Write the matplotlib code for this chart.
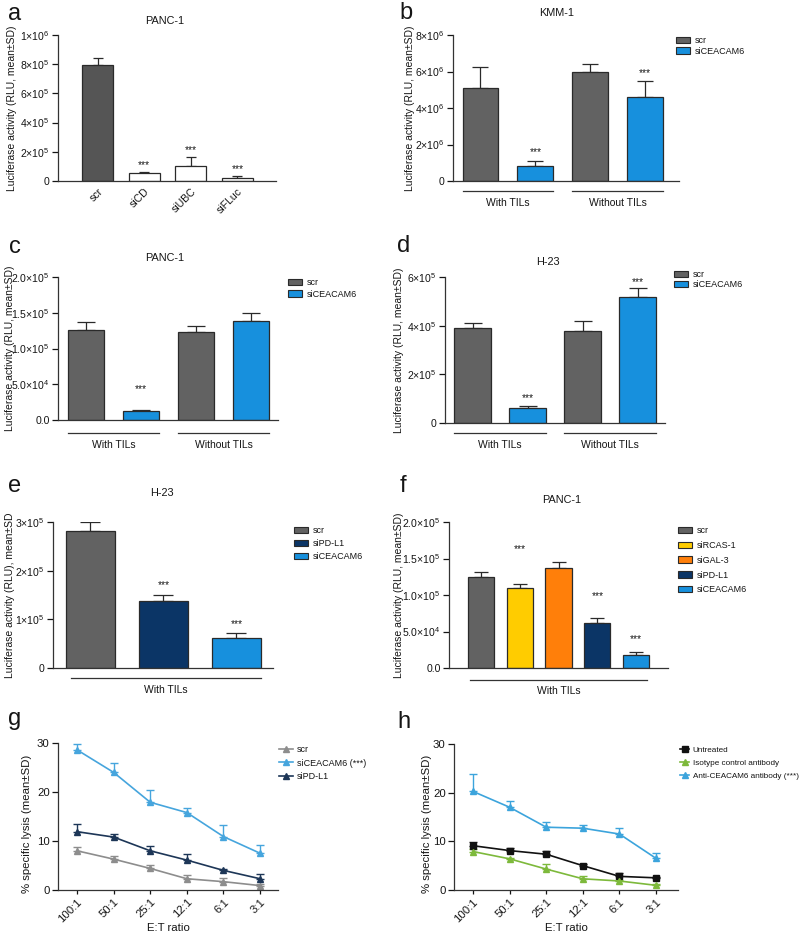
import matplotlib
matplotlib.use('Agg')
import matplotlib.pyplot as plt
from matplotlib import transforms
from matplotlib.patches import Patch
from matplotlib.lines import Line2D
import numpy as np

plt.rcParams.update({
    'font.family': ['Liberation Sans', 'DejaVu Sans'],
    'mathtext.fontset': 'custom',
    'mathtext.rm': 'Liberation Sans',
    'mathtext.it': 'Liberation Sans:italic',
    'mathtext.bf': 'Liberation Sans:bold',
    'font.size': 7.4,
    'axes.linewidth': 0.9,
    'xtick.major.width': 0.9,
    'ytick.major.width': 0.9,
    'text.color': '#151515',
    'xtick.color': '#151515',
    'ytick.color': '#151515',
    'axes.labelcolor': '#151515',
})

# ---------------- data ----------------
a_cats = ['scr', 'siCD', 'siUBC', 'siFLuc']
a_vals = [7.95e5, 0.52e5, 1.05e5, 0.2e5]
a_err = [0.5e5, 0.09e5, 0.6e5, 0.12e5]
a_yticks = [0, 2e5, 4e5, 6e5, 8e5, 1e6]
a_ylabels = ['0', '2×10$^5$', '4×10$^5$', '6×10$^5$', '8×10$^5$', '1×10$^6$']

groups = ['With TILs', 'Without TILs']
b_scr = [5.1e6, 6.0e6]
b_scr_err = [1.17e6, 0.43e6]
b_si = [0.8e6, 4.62e6]
b_si_err = [0.32e6, 0.88e6]
b_yticks = [0, 2e6, 4e6, 6e6, 8e6]
b_ylabels = ['0', '2×10$^6$', '4×10$^6$', '6×10$^6$', '8×10$^6$']

c_scr = [1.26e5, 1.23e5]
c_scr_err = [0.11e5, 0.09e5]
c_si = [0.13e5, 1.38e5]
c_si_err = [0.015e5, 0.12e5]
c_yticks = [0, 5e4, 1e5, 1.5e5, 2e5]
c_ylabels = ['0.0', '5.0×10$^4$', '1.0×10$^5$', '1.5×10$^5$', '2.0×10$^5$']

d_scr = [3.89e5, 3.79e5]
d_scr_err = [0.23e5, 0.41e5]
d_si = [0.61e5, 5.18e5]
d_si_err = [0.1e5, 0.38e5]
d_yticks = [0, 2e5, 4e5, 6e5]
d_ylabels = ['0', '2×10$^5$', '4×10$^5$', '6×10$^5$']

e_cats = ['scr', 'siPD-L1', 'siCEACAM6']
e_vals = [2.82e5, 1.38e5, 0.62e5]
e_err = [0.19e5, 0.11e5, 0.09e5]
e_yticks = [0, 1e5, 2e5, 3e5]
e_ylabels = ['0', '1×10$^5$', '2×10$^5$', '3×10$^5$']

f_cats = ['scr', 'siRCAS-1', 'siGAL-3', 'siPD-L1', 'siCEACAM6']
f_vals = [1.24e5, 1.10e5, 1.37e5, 0.61e5, 0.18e5]
f_err = [0.08e5, 0.05e5, 0.08e5, 0.08e5, 0.04e5]
f_yticks = [0, 5e4, 1e5, 1.5e5, 2e5]
f_ylabels = ['0.0', '5.0×10$^4$', '1.0×10$^5$', '1.5×10$^5$', '2.0×10$^5$']

ratios = ['100:1', '50:1', '25:1', '12:1', '6:1', '3:1']
g_scr = [8.0, 6.3, 4.4, 2.3, 1.7, 0.9]
g_scr_err = [0.7, 0.6, 0.8, 0.7, 0.7, 0.3]
g_cea = [28.6, 24.0, 17.9, 15.8, 10.9, 7.5]
g_cea_err = [1.1, 1.9, 2.6, 1.0, 2.4, 1.6]
g_pdl = [11.9, 10.8, 8.0, 6.1, 4.0, 2.3]
g_pdl_err = [1.5, 0.6, 1.0, 1.2, 0.2, 1.0]

h_unt = [9.1, 8.1, 7.35, 5.0, 2.8, 2.5]
h_unt_err = [0.8, 0.5, 0.7, 0.3, 0.6, 0.2]
h_iso = [7.9, 6.4, 4.3, 2.3, 1.85, 0.96]
h_iso_err = [0.5, 0.2, 1.0, 0.65, 0.3, 0.2]
h_anti = [20.25, 17.0, 12.9, 12.7, 11.5, 6.5]
h_anti_err = [3.5, 1.3, 1.0, 0.7, 1.3, 1.05]

# ---------------- style ----------------
GREY = '#626262'
BLUE = '#1790dd'
NAVY = '#0b3566'
YELLOW = '#ffcc00'
ORANGE = '#ff7f0a'
EDGE = '#2a2a2a'
LUC_LABEL = 'Luciferase activity (RLU, mean±SD)'
TICK_FS = 7.6
LAB_FS = 7.5
TITLE_FS = 7.8
LEG_FS = 6.5

W, H = 800, 933
fig = plt.figure(figsize=(W / 100, H / 100), dpi=100)


def add_ax(l, r, t, b):
    ax = fig.add_axes([l / W, 1 - b / H, (r - l) / W, (b - t) / H])
    for s in ['top', 'right']:
        ax.spines[s].set_visible(False)
    ax.spines['left'].set_color('#333333')
    ax.spines['bottom'].set_color('#333333')
    ax.tick_params(axis='y', direction='out', length=4, labelsize=TICK_FS, pad=2)
    return ax


def px_text(x, y, s, **kw):
    fig.text(x / W, 1 - y / H, s, **kw)


def bars(ax, xs, vals, errs, colors, width, capsize):
    ax.bar(xs, vals, width=width, color=colors, edgecolor=EDGE, linewidth=0.9, zorder=2)
    ax.errorbar(xs, vals, yerr=[np.zeros(len(vals)), errs], fmt='none', ecolor=EDGE,
                elinewidth=0.9, capsize=capsize, capthick=0.9, zorder=1)


def stars(ax, x, top, off_px):
    ax.annotate('***', xy=(x, top), xytext=(0, off_px * 0.72), textcoords='offset points',
                ha='center', va='center', fontsize=7.4)


def group_line(ax, x0, x1, label, dy_line=10, dy_text=22):
    trans = transforms.blended_transform_factory(ax.transData, ax.transAxes)
    o1 = transforms.ScaledTranslation(0, -dy_line / 100, fig.dpi_scale_trans)
    o2 = transforms.ScaledTranslation(0, -dy_text / 100, fig.dpi_scale_trans)
    ax.plot([x0, x1], [0, 0], transform=trans + o1, color='#333333', lw=0.9, clip_on=False)
    ax.text((x0 + x1) / 2, 0, label, transform=trans + o2, ha='center', va='center', fontsize=7.5)


def legend(ax, handles, labels, x, y, spacing=0.3, hl=1.6, hh=0.7, pad=0.5, fs=LEG_FS):
    ax.legend(handles, labels, loc='upper left', bbox_to_anchor=(x / W, 1 - y / H),
              bbox_transform=fig.transFigure, frameon=False, fontsize=fs,
              handlelength=hl, handleheight=hh, handletextpad=pad,
              labelspacing=spacing, borderpad=0, borderaxespad=0)


def set_ylab(ax, label, xpx, l, r, fs=LAB_FS, yc=0.5):
    ax.set_ylabel(label, fontsize=fs)
    ax.yaxis.set_label_coords((xpx - l) / (r - l), yc)


def patch(c):
    return Patch(fc=c, ec=EDGE, lw=0.8)


# ---------------- panel a ----------------
L, R, T, B = 58, 276, 35, 181
ax = add_ax(L, R, T, B)
xa = np.arange(len(a_cats))
bars(ax, xa, a_vals, a_err, ['#555555', 'white', 'white', 'white'], 0.66, 3.4)
ax.set_xlim(-0.85, 3.83)
ax.set_ylim(0, 1e6)
ax.set_yticks(a_yticks)
ax.set_yticklabels(a_ylabels)
ax.set_xticks(xa)
ax.set_xticklabels(a_cats, rotation=45, ha='right', rotation_mode='anchor', fontsize=TICK_FS)
ax.tick_params(axis='x', length=0, pad=4)
for i in [1, 2, 3]:
    stars(ax, xa[i], a_vals[i] + a_err[i], 7)
set_ylab(ax, LUC_LABEL, 17, L, R)
px_text(165, 21, 'PANC-1', ha='center', va='center', fontsize=TITLE_FS)

# ---------------- panel b ----------------
L, R, T, B = 453, 679, 35, 181
ax = add_ax(L, R, T, B)
xs_scr = np.array([0, 2])
xs_si = np.array([1, 3])
bars(ax, xs_scr, b_scr, b_scr_err, GREY, 0.65, 6)
bars(ax, xs_si, b_si, b_si_err, BLUE, 0.65, 6)
ax.set_xlim(-0.5, 3.62)
ax.set_ylim(0, 8e6)
ax.set_yticks(b_yticks)
ax.set_yticklabels(b_ylabels)
ax.set_xticks([])
for i in range(2):
    stars(ax, xs_si[i], b_si[i] + b_si_err[i], 8)
group_line(ax, -0.325, 1.325, groups[0])
group_line(ax, 1.675, 3.325, groups[1])
set_ylab(ax, LUC_LABEL, 415, L, R)
legend(ax, [patch(GREY), patch(BLUE)], ['scr', 'siCEACAM6'], 676, 36, spacing=0.2)
px_text(557, 13, 'KMM-1', ha='center', va='center', fontsize=TITLE_FS)

# ---------------- panel c ----------------
L, R, T, B = 58, 278, 277, 420
ax = add_ax(L, R, T, B)
bars(ax, xs_scr, c_scr, c_scr_err, GREY, 0.65, 6.5)
bars(ax, xs_si, c_si, c_si_err, BLUE, 0.65, 6.5)
ax.set_xlim(-0.51, 3.49)
ax.set_ylim(0, 2e5)
ax.set_yticks(c_yticks)
ax.set_yticklabels(c_ylabels)
ax.set_xticks([])
stars(ax, xs_si[0], c_si[0] + c_si_err[0], 21)
group_line(ax, -0.325, 1.325, groups[0], 13, 25)
group_line(ax, 1.675, 3.325, groups[1], 13, 25)
set_ylab(ax, LUC_LABEL, 15, L, R)
legend(ax, [patch(GREY), patch(BLUE)], ['scr', 'siCEACAM6'], 288, 278, spacing=0.3)
px_text(165, 258, 'PANC-1', ha='center', va='center', fontsize=TITLE_FS)

# ---------------- panel d ----------------
L, R, T, B = 445, 665, 277, 423
ax = add_ax(L, R, T, B)
bars(ax, xs_scr, d_scr, d_scr_err, GREY, 0.67, 6.8)
bars(ax, xs_si, d_si, d_si_err, BLUE, 0.67, 6.8)
ax.set_xlim(-0.5, 3.5)
ax.set_ylim(0, 6e5)
ax.set_yticks(d_yticks)
ax.set_yticklabels(d_ylabels)
ax.set_xticks([])
stars(ax, xs_si[0], d_si[0] + d_si_err[0], 8)
stars(ax, xs_si[1], d_si[1] + d_si_err[1], 6)
group_line(ax, -0.335, 1.335, groups[0])
group_line(ax, 1.665, 3.335, groups[1])
set_ylab(ax, LUC_LABEL, 404, L, R)
legend(ax, [patch(GREY), patch(BLUE)], ['scr', 'siCEACAM6'], 674, 270, spacing=0.15)
px_text(548, 262, 'H-23', ha='center', va='center', fontsize=TITLE_FS)

# ---------------- panel e ----------------
L, R, T, B = 53, 273, 522, 668
ax = add_ax(L, R, T, B)
xe = np.arange(len(e_cats))
e_colors = [GREY, NAVY, BLUE]
bars(ax, xe, e_vals, e_err, e_colors, 0.67, 7)
ax.set_xlim(-0.51, 2.5)
ax.set_ylim(0, 3e5)
ax.set_yticks(e_yticks)
ax.set_yticklabels(e_ylabels)
ax.set_xticks([])
stars(ax, xe[1], e_vals[1] + e_err[1], 10)
stars(ax, xe[2], e_vals[2] + e_err[2], 9)
group_line(ax, -0.26, 2.34, 'With TILs', 10, 22)
set_ylab(ax, 'Luciferase activity (RLU), mean±SD', 15, L, R)
legend(ax, [patch(c) for c in e_colors], e_cats, 294, 526, spacing=0.45)
px_text(162, 493, 'H-23', ha='center', va='center', fontsize=TITLE_FS)

# ---------------- panel f ----------------
L, R, T, B = 449, 668, 522, 668
ax = add_ax(L, R, T, B)
xf = np.arange(len(f_cats))
f_colors = [GREY, YELLOW, ORANGE, NAVY, BLUE]
bars(ax, xf, f_vals, f_err, f_colors, 0.67, 5)
ax.set_xlim(-0.82, 4.82)
ax.set_ylim(0, 2e5)
ax.set_yticks(f_yticks)
ax.set_yticklabels(f_ylabels)
ax.set_xticks([])
stars(ax, xf[1], f_vals[1] + f_err[1], 35)
stars(ax, xf[3], f_vals[3] + f_err[3], 22)
stars(ax, xf[4], f_vals[4] + f_err[4], 13)
group_line(ax, -0.28, 4.28, 'With TILs', 12, 23)
set_ylab(ax, LUC_LABEL, 404, L, R)
legend(ax, [patch(c) for c in f_colors], f_cats, 678, 526, spacing=0.65)
px_text(562, 500, 'PANC-1', ha='center', va='center', fontsize=TITLE_FS)

# ---------------- panel g ----------------
L, R, T, B = 58, 278, 743, 890
ax = add_ax(L, R, T, B)
xg = np.arange(len(ratios))
g_series = [(g_scr, g_scr_err, '#8d8d8d', 'scr'),
            (g_cea, g_cea_err, '#46a5dd', 'siCEACAM6 (***)'),
            (g_pdl, g_pdl_err, '#1d3657', 'siPD-L1')]
handles = []
for vals, errs, col, lab in g_series:
    ax.errorbar(xg, vals, yerr=[np.zeros(len(vals)), errs], color=col, marker='^', ms=4.5,
                lw=1.2, elinewidth=1.0, capsize=3, capthick=1.0)
    handles.append(Line2D([], [], color=col, marker='^', ms=4.5, lw=1.2))
ax.set_xlim(-0.52, 5.49)
ax.set_ylim(0, 30)
ax.set_yticks([0, 10, 20, 30])
ax.tick_params(axis='y', labelsize=8.2)
ax.set_xticks(xg)
ax.set_xticklabels(ratios, rotation=45, ha='right', rotation_mode='anchor', fontsize=8.2)
ax.tick_params(axis='x', length=3, pad=2)
ax.set_xlabel('E:T ratio', fontsize=8.2, va='center')
ax.xaxis.set_label_coords(0.5, (890 - 928) / (890 - 743))
set_ylab(ax, '% specific lysis (mean±SD)', 32, L, R, fs=8.2, yc=0.45)
legend(ax, handles, [s[3] for s in g_series], 279, 745, spacing=0.5, hl=1.5, hh=0.8)

# ---------------- panel h ----------------
L, R, T, B = 454, 678, 744, 890
ax = add_ax(L, R, T, B)
h_series = [(h_unt, h_unt_err, '#111111', 's', 'Untreated'),
            (h_iso, h_iso_err, '#7db93b', '^', 'Isotype control antibody'),
            (h_anti, h_anti_err, '#3ca4dc', '^', 'Anti-CEACAM6 antibody (***)')]
handles = []
for vals, errs, col, mk, lab in h_series:
    ax.errorbar(xg, vals, yerr=[np.zeros(len(vals)), errs], color=col, marker=mk,
                ms=5 if mk == 's' else 4.5, lw=1.2, elinewidth=1.0, capsize=3, capthick=1.0)
    handles.append(Line2D([], [], color=col, marker=mk, ms=5 if mk == 's' else 4.5, lw=1.2))
ax.set_xlim(-0.52, 5.6)
ax.set_ylim(0, 30)
ax.set_yticks([0, 10, 20, 30])
ax.tick_params(axis='y', labelsize=8.2)
ax.set_xticks(xg)
ax.set_xticklabels(ratios, rotation=45, ha='right', rotation_mode='anchor', fontsize=8.2)
ax.tick_params(axis='x', length=3, pad=2)
ax.set_xlabel('E:T ratio', fontsize=8.2, va='center')
ax.xaxis.set_label_coords(0.5, (890 - 928) / (890 - 744))
set_ylab(ax, '% specific lysis (mean±SD)', 432, L, R, fs=8.2, yc=0.45)
legend(ax, handles, [s[4] for s in h_series], 680, 746, spacing=0.6, hl=1.1, hh=0.8,
       pad=0.45, fs=5.9)

# ---------------- panel letters ----------------
for lab, x, y in [('a', 15, 14), ('b', 406, 13), ('c', 15, 247), ('d', 404, 246),
                  ('e', 15, 486), ('f', 403, 486), ('g', 15, 719), ('h', 404, 722)]:
    px_text(x, y, lab, ha='center', va='center', fontsize=17)

fig.savefig('out.png', dpi=100)
